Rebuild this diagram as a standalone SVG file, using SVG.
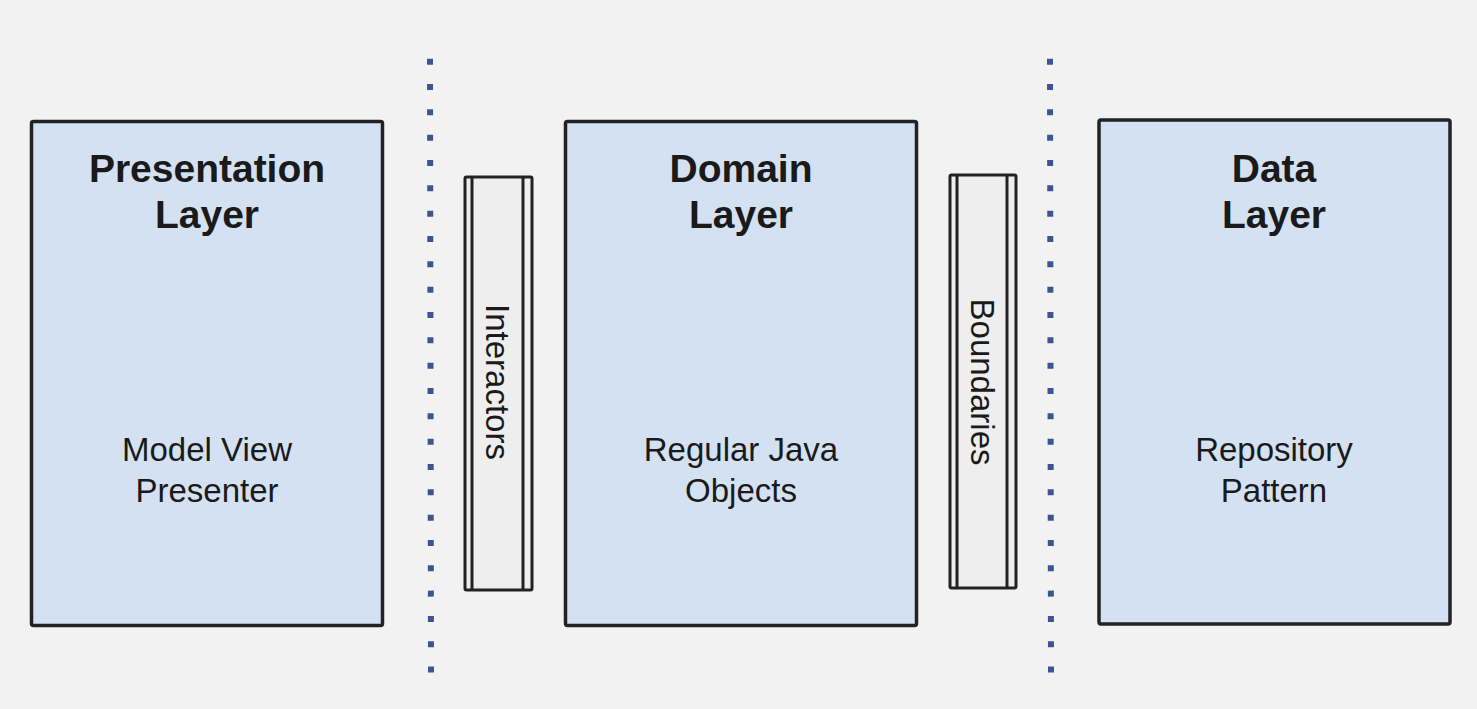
<svg xmlns="http://www.w3.org/2000/svg" width="1477" height="709" viewBox="0 0 1477 709">
<style>
.layer{fill:#d4e1f2;stroke:#222;stroke-width:3.5}
.bar{fill:#eeeeee;stroke:#222;stroke-width:3}
.inner{stroke:#222;stroke-width:3}
.title{font-family:"Liberation Sans",Arial,sans-serif;font-weight:bold;font-size:39px;fill:#1a1a1a;text-anchor:middle}
.body{font-family:"Liberation Sans",Arial,sans-serif;font-size:33px;fill:#1a1a1a;text-anchor:middle}
.sep{stroke:#3a5593;stroke-width:6;stroke-dasharray:6 19.33;fill:none}
</style>
<rect width="1477" height="709" fill="#f2f2f2"/>
<g id="separators">
<line class="sep" x1="430" y1="58.7" x2="431" y2="675"/>
<line class="sep" x1="1050" y1="58.7" x2="1051" y2="675"/>
</g>
<g id="presentation">
<rect class="layer" x="31.5" y="121.5" width="351" height="504" rx="2"/>
<text class="title" x="207" y="182">Presentation</text>
<text class="title" x="207" y="228">Layer</text>
<text class="body" x="207" y="461">Model View</text>
<text class="body" x="207" y="502">Presenter</text>
</g>
<g id="interactors">
<rect class="bar" x="465" y="177" width="67" height="413" rx="1.5"/>
<line class="inner" x1="472" y1="177" x2="472" y2="590"/>
<line class="inner" x1="523" y1="177" x2="523" y2="590"/>
<text class="body" transform="translate(497,382) rotate(90)" dominant-baseline="central">Interactors</text>
</g>
<g id="domain">
<rect class="layer" x="565.5" y="121.5" width="351" height="504" rx="2"/>
<text class="title" x="741" y="182">Domain</text>
<text class="title" x="741" y="228">Layer</text>
<text class="body" x="741" y="461">Regular Java</text>
<text class="body" x="741" y="502">Objects</text>
</g>
<g id="boundaries">
<rect class="bar" x="950" y="175" width="66" height="413" rx="1.5"/>
<line class="inner" x1="957" y1="175" x2="957" y2="588"/>
<line class="inner" x1="1007" y1="175" x2="1007" y2="588"/>
<text class="body" transform="translate(982,382) rotate(90)" dominant-baseline="central">Boundaries</text>
</g>
<g id="data">
<rect class="layer" x="1099" y="120" width="351" height="504" rx="2"/>
<text class="title" x="1274" y="182">Data</text>
<text class="title" x="1274" y="228">Layer</text>
<text class="body" x="1274" y="461">Repository</text>
<text class="body" x="1274" y="502">Pattern</text>
</g>
</svg>
